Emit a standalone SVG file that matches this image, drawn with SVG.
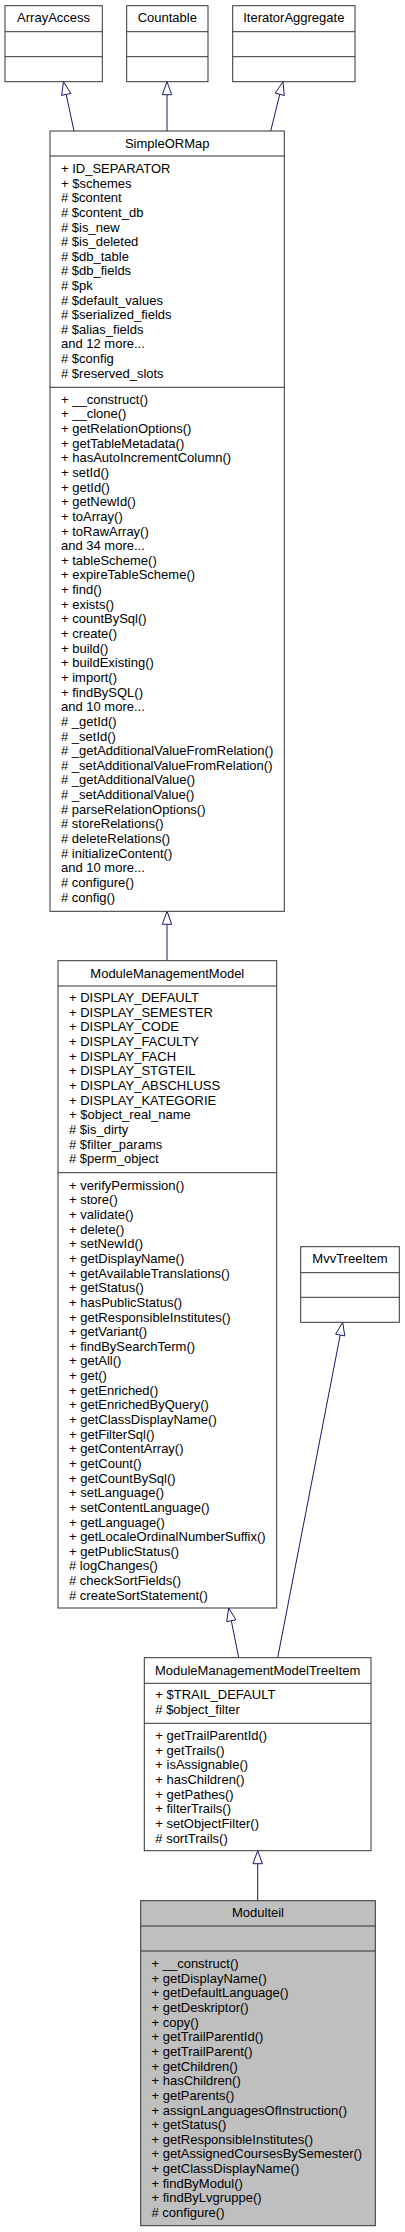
<svg xmlns="http://www.w3.org/2000/svg" width="405" height="2232" viewBox="0 0 405 2232">
<style>
text{font-family:"Liberation Sans",Arial,Helvetica,sans-serif;font-size:13px;fill:#000}
.t{text-anchor:middle}
.box{fill:#fff;stroke:#333;stroke-width:1}
.cur{fill:#bfbfbf;stroke:#333;stroke-width:1}
.sep{stroke:#333;stroke-width:1}
.e{stroke:#191970;stroke-width:1;fill:none}
.ah{fill:#fff;stroke:#191970;stroke-width:1}
</style>
<rect width="405" height="2232" fill="#fff"/>
<g id="connectors">
<path class="e" d="M74,131 L66.2,94.4"/>
<polygon class="ah" points="63.5,81.7 70.8,93.4 61.6,95.4"/>
<path class="e" d="M167,131 L167,94.7"/>
<polygon class="ah" points="167,81.7 171.7,94.7 162.3,94.7"/>
<path class="e" d="M270.7,131 L279.75,94.3"/>
<polygon class="ah" points="283,81.7 284.3,95.5 275.2,93.1"/>
<path class="e" d="M167,960.7 L167,924.3"/>
<polygon class="ah" points="167,911.3 171.7,924.3 162.3,924.3"/>
<path class="e" d="M238.7,1657.7 L231.3,1620.7"/>
<polygon class="ah" points="228.7,1608 235.9,1619.8 226.7,1621.6"/>
<path class="e" d="M277.7,1657.7 L340.2,1335.05"/>
<polygon class="ah" points="342.7,1322.3 344.8,1335.95 335.6,1334.15"/>
<path class="e" d="M257.7,1900.7 L257.7,1863.7"/>
<polygon class="ah" points="257.7,1850.7 262.4,1863.7 253,1863.7"/>
</g>
<g id="ArrayAccess">
<rect class="box" x="5" y="5.7" width="97.3" height="76"/>
<line class="sep" x1="5" y1="31.7" x2="102.3" y2="31.7"/>
<line class="sep" x1="5" y1="56.7" x2="102.3" y2="56.7"/>
<text class="t" x="53.6" y="22">ArrayAccess</text>
</g>
<g id="Countable">
<rect class="box" x="126.7" y="5.7" width="81.3" height="76"/>
<line class="sep" x1="126.7" y1="31.7" x2="208" y2="31.7"/>
<line class="sep" x1="126.7" y1="56.7" x2="208" y2="56.7"/>
<text class="t" x="167.3" y="22">Countable</text>
</g>
<g id="IteratorAggregate">
<rect class="box" x="232.7" y="5.7" width="122.3" height="76"/>
<line class="sep" x1="232.7" y1="31.7" x2="355" y2="31.7"/>
<line class="sep" x1="232.7" y1="56.7" x2="355" y2="56.7"/>
<text class="t" x="293.8" y="22">IteratorAggregate</text>
</g>
<g id="SimpleORMap">
<rect class="box" x="50" y="131" width="234.3" height="780.3"/>
<line class="sep" x1="50" y1="156" x2="284.3" y2="156"/>
<line class="sep" x1="50" y1="387.3" x2="284.3" y2="387.3"/>
<text class="t" x="167.2" y="147.5">SimpleORMap</text>
<text y="173.1"><tspan x="61">+ ID_SEPARATOR</tspan><tspan x="61" dy="14.6">+ $schemes</tspan><tspan x="61" dy="14.6"># $content</tspan><tspan x="61" dy="14.6"># $content_db</tspan><tspan x="61" dy="14.6"># $is_new</tspan><tspan x="61" dy="14.6"># $is_deleted</tspan><tspan x="61" dy="14.6"># $db_table</tspan><tspan x="61" dy="14.6"># $db_fields</tspan><tspan x="61" dy="14.6"># $pk</tspan><tspan x="61" dy="14.6"># $default_values</tspan><tspan x="61" dy="14.6"># $serialized_fields</tspan><tspan x="61" dy="14.6"># $alias_fields</tspan><tspan x="61" dy="14.6">and 12 more...</tspan><tspan x="61" dy="14.6"># $config</tspan><tspan x="61" dy="14.6"># $reserved_slots</tspan></text>
<text y="403.8"><tspan x="61">+ __construct()</tspan><tspan x="61" dy="14.64">+ __clone()</tspan><tspan x="61" dy="14.64">+ getRelationOptions()</tspan><tspan x="61" dy="14.64">+ getTableMetadata()</tspan><tspan x="61" dy="14.64">+ hasAutoIncrementColumn()</tspan><tspan x="61" dy="14.64">+ setId()</tspan><tspan x="61" dy="14.64">+ getId()</tspan><tspan x="61" dy="14.64">+ getNewId()</tspan><tspan x="61" dy="14.64">+ toArray()</tspan><tspan x="61" dy="14.64">+ toRawArray()</tspan><tspan x="61" dy="14.64">and 34 more...</tspan><tspan x="61" dy="14.64">+ tableScheme()</tspan><tspan x="61" dy="14.64">+ expireTableScheme()</tspan><tspan x="61" dy="14.64">+ find()</tspan><tspan x="61" dy="14.64">+ exists()</tspan><tspan x="61" dy="14.64">+ countBySql()</tspan><tspan x="61" dy="14.64">+ create()</tspan><tspan x="61" dy="14.64">+ build()</tspan><tspan x="61" dy="14.64">+ buildExisting()</tspan><tspan x="61" dy="14.64">+ import()</tspan><tspan x="61" dy="14.64">+ findBySQL()</tspan><tspan x="61" dy="14.64">and 10 more...</tspan><tspan x="61" dy="14.64"># _getId()</tspan><tspan x="61" dy="14.64"># _setId()</tspan><tspan x="61" dy="14.64"># _getAdditionalValueFromRelation()</tspan><tspan x="61" dy="14.64"># _setAdditionalValueFromRelation()</tspan><tspan x="61" dy="14.64"># _getAdditionalValue()</tspan><tspan x="61" dy="14.64"># _setAdditionalValue()</tspan><tspan x="61" dy="14.64"># parseRelationOptions()</tspan><tspan x="61" dy="14.64"># storeRelations()</tspan><tspan x="61" dy="14.64"># deleteRelations()</tspan><tspan x="61" dy="14.64"># initializeContent()</tspan><tspan x="61" dy="14.64">and 10 more...</tspan><tspan x="61" dy="14.64"># configure()</tspan><tspan x="61" dy="14.64"># config()</tspan></text>
</g>
<g id="ModuleManagementModel">
<rect class="box" x="58" y="960.7" width="218.7" height="647.3"/>
<line class="sep" x1="58" y1="986" x2="276.7" y2="986"/>
<line class="sep" x1="58" y1="1172.7" x2="276.7" y2="1172.7"/>
<text class="t" x="167.3" y="978">ModuleManagementModel</text>
<text y="1002.1"><tspan x="69">+ DISPLAY_DEFAULT</tspan><tspan x="69" dy="14.64">+ DISPLAY_SEMESTER</tspan><tspan x="69" dy="14.64">+ DISPLAY_CODE</tspan><tspan x="69" dy="14.64">+ DISPLAY_FACULTY</tspan><tspan x="69" dy="14.64">+ DISPLAY_FACH</tspan><tspan x="69" dy="14.64">+ DISPLAY_STGTEIL</tspan><tspan x="69" dy="14.64">+ DISPLAY_ABSCHLUSS</tspan><tspan x="69" dy="14.64">+ DISPLAY_KATEGORIE</tspan><tspan x="69" dy="14.64">+ $object_real_name</tspan><tspan x="69" dy="14.64"># $is_dirty</tspan><tspan x="69" dy="14.64"># $filter_params</tspan><tspan x="69" dy="14.64"># $perm_object</tspan></text>
<text y="1189.8"><tspan x="69">+ verifyPermission()</tspan><tspan x="69" dy="14.64">+ store()</tspan><tspan x="69" dy="14.64">+ validate()</tspan><tspan x="69" dy="14.64">+ delete()</tspan><tspan x="69" dy="14.64">+ setNewId()</tspan><tspan x="69" dy="14.64">+ getDisplayName()</tspan><tspan x="69" dy="14.64">+ getAvailableTranslations()</tspan><tspan x="69" dy="14.64">+ getStatus()</tspan><tspan x="69" dy="14.64">+ hasPublicStatus()</tspan><tspan x="69" dy="14.64">+ getResponsibleInstitutes()</tspan><tspan x="69" dy="14.64">+ getVariant()</tspan><tspan x="69" dy="14.64">+ findBySearchTerm()</tspan><tspan x="69" dy="14.64">+ getAll()</tspan><tspan x="69" dy="14.64">+ get()</tspan><tspan x="69" dy="14.64">+ getEnriched()</tspan><tspan x="69" dy="14.64">+ getEnrichedByQuery()</tspan><tspan x="69" dy="14.64">+ getClassDisplayName()</tspan><tspan x="69" dy="14.64">+ getFilterSql()</tspan><tspan x="69" dy="14.64">+ getContentArray()</tspan><tspan x="69" dy="14.64">+ getCount()</tspan><tspan x="69" dy="14.64">+ getCountBySql()</tspan><tspan x="69" dy="14.64">+ setLanguage()</tspan><tspan x="69" dy="14.64">+ setContentLanguage()</tspan><tspan x="69" dy="14.64">+ getLanguage()</tspan><tspan x="69" dy="14.64">+ getLocaleOrdinalNumberSuffix()</tspan><tspan x="69" dy="14.64">+ getPublicStatus()</tspan><tspan x="69" dy="14.64"># logChanges()</tspan><tspan x="69" dy="14.64"># checkSortFields()</tspan><tspan x="69" dy="14.64"># createSortStatement()</tspan></text>
</g>
<g id="MvvTreeItem">
<rect class="box" x="300.7" y="1246.7" width="98.6" height="75.6"/>
<line class="sep" x1="300.7" y1="1272.7" x2="399.3" y2="1272.7"/>
<line class="sep" x1="300.7" y1="1297.3" x2="399.3" y2="1297.3"/>
<text class="t" x="350" y="1263">MvvTreeItem</text>
</g>
<g id="ModuleManagementModelTreeItem">
<rect class="box" x="144.3" y="1657.7" width="226.7" height="193"/>
<line class="sep" x1="144.3" y1="1683.3" x2="371" y2="1683.3"/>
<line class="sep" x1="144.3" y1="1723.3" x2="371" y2="1723.3"/>
<text class="t" x="257.7" y="1674.7">ModuleManagementModelTreeItem</text>
<text y="1699.1"><tspan x="155.3">+ $TRAIL_DEFAULT</tspan><tspan x="155.3" dy="14.64"># $object_filter</tspan></text>
<text y="1740.1"><tspan x="155.3">+ getTrailParentId()</tspan><tspan x="155.3" dy="14.64">+ getTrails()</tspan><tspan x="155.3" dy="14.64">+ isAssignable()</tspan><tspan x="155.3" dy="14.64">+ hasChildren()</tspan><tspan x="155.3" dy="14.64">+ getPathes()</tspan><tspan x="155.3" dy="14.64">+ filterTrails()</tspan><tspan x="155.3" dy="14.64">+ setObjectFilter()</tspan><tspan x="155.3" dy="14.64"># sortTrails()</tspan></text>
</g>
<g id="Modulteil">
<rect class="cur" x="140.7" y="1900.7" width="234.6" height="325"/>
<line class="sep" x1="140.7" y1="1926" x2="375.3" y2="1926"/>
<line class="sep" x1="140.7" y1="1951" x2="375.3" y2="1951"/>
<text class="t" x="258" y="1917">Modulteil</text>
<text y="1968.1"><tspan x="151.5">+ __construct()</tspan><tspan x="151.5" dy="14.64">+ getDisplayName()</tspan><tspan x="151.5" dy="14.64">+ getDefaultLanguage()</tspan><tspan x="151.5" dy="14.64">+ getDeskriptor()</tspan><tspan x="151.5" dy="14.64">+ copy()</tspan><tspan x="151.5" dy="14.64">+ getTrailParentId()</tspan><tspan x="151.5" dy="14.64">+ getTrailParent()</tspan><tspan x="151.5" dy="14.64">+ getChildren()</tspan><tspan x="151.5" dy="14.64">+ hasChildren()</tspan><tspan x="151.5" dy="14.64">+ getParents()</tspan><tspan x="151.5" dy="14.64">+ assignLanguagesOfInstruction()</tspan><tspan x="151.5" dy="14.64">+ getStatus()</tspan><tspan x="151.5" dy="14.64">+ getResponsibleInstitutes()</tspan><tspan x="151.5" dy="14.64">+ getAssignedCoursesBySemester()</tspan><tspan x="151.5" dy="14.64">+ getClassDisplayName()</tspan><tspan x="151.5" dy="14.64">+ findByModul()</tspan><tspan x="151.5" dy="14.64">+ findByLvgruppe()</tspan><tspan x="151.5" dy="14.64"># configure()</tspan></text>
</g>
</svg>
